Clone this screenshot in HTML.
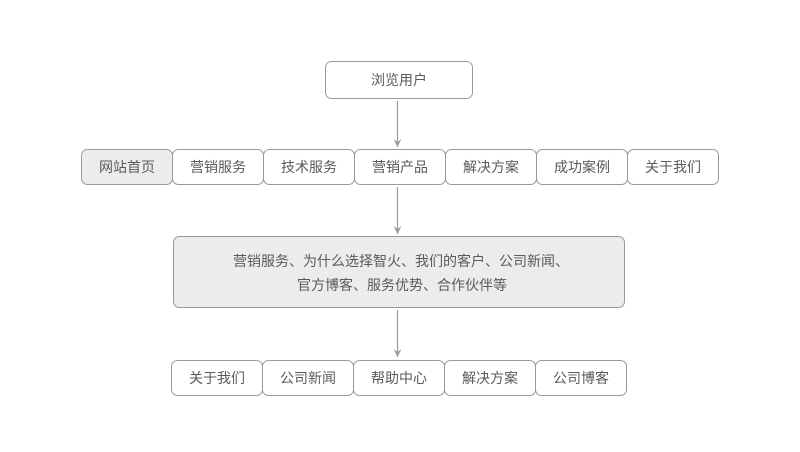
<!DOCTYPE html>
<html><head><meta charset="utf-8"><style>body{margin:0;background:#fff}svg{display:block}</style></head><body>
<svg width="800" height="452" xmlns="http://www.w3.org/2000/svg" font-family="Liberation Sans, Noto Sans CJK SC, sans-serif" font-size="14" fill="#5a5a5a">
<defs><marker id="a" markerWidth="10" markerHeight="10" refX="8" refY="5" orient="auto" markerUnits="userSpaceOnUse"><path d="M0,1 L8,5 L0,9 L3,5 Z" fill="#999"/></marker></defs>
<g stroke="#999" stroke-width="1.2" fill="none">
<line x1="397.5" y1="101" x2="397.5" y2="147" marker-end="url(#a)"/>
<line x1="397.5" y1="187" x2="397.5" y2="234" marker-end="url(#a)"/>
<line x1="397.5" y1="310" x2="397.5" y2="357" marker-end="url(#a)"/>
</g>
<g stroke="#999" stroke-width="1">
<rect x="325.5" y="61.5" width="147" height="37" rx="6" fill="#fff"/>
<rect x="81.5" y="149.5" width="91" height="35" rx="6" fill="#ececec"/>
<rect x="172.5" y="149.5" width="91" height="35" rx="6" fill="#fff"/>
<rect x="263.5" y="149.5" width="91" height="35" rx="6" fill="#fff"/>
<rect x="354.5" y="149.5" width="91" height="35" rx="6" fill="#fff"/>
<rect x="445.5" y="149.5" width="91" height="35" rx="6" fill="#fff"/>
<rect x="536.5" y="149.5" width="91" height="35" rx="6" fill="#fff"/>
<rect x="627.5" y="149.5" width="91" height="35" rx="6" fill="#fff"/>
<rect x="173.5" y="236.5" width="451" height="71" rx="6" fill="#ececec"/>
<rect x="171.5" y="360.5" width="91" height="35" rx="6" fill="#fff"/>
<rect x="262.5" y="360.5" width="91" height="35" rx="6" fill="#fff"/>
<rect x="353.5" y="360.5" width="91" height="35" rx="6" fill="#fff"/>
<rect x="444.5" y="360.5" width="91" height="35" rx="6" fill="#fff"/>
<rect x="535.5" y="360.5" width="91" height="35" rx="6" fill="#fff"/>
</g>
<g text-anchor="middle">
<text x="399" y="85">浏览用户</text>
<text x="127" y="172">网站首页</text>
<text x="218" y="172">营销服务</text>
<text x="309" y="172">技术服务</text>
<text x="400" y="172">营销产品</text>
<text x="491" y="172">解决方案</text>
<text x="582" y="172">成功案例</text>
<text x="673" y="172">关于我们</text>
<text x="401" y="266">营销服务、为什么选择智火、我们的客户、公司新闻、</text>
<text x="402" y="290">官方博客、服务优势、合作伙伴等</text>
<text x="217" y="383">关于我们</text>
<text x="308" y="383">公司新闻</text>
<text x="399" y="383">帮助中心</text>
<text x="490" y="383">解决方案</text>
<text x="581" y="383">公司博客</text>
</g>
</svg>
</body></html>
